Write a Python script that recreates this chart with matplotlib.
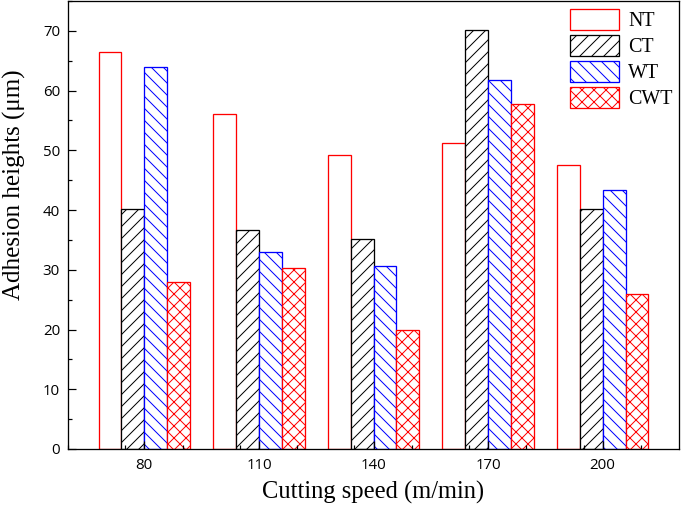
import numpy as np
import matplotlib.pyplot as plt
from matplotlib.ticker import MultipleLocator

speeds = [80, 110, 140, 170, 200]
nt = [66.4, 56.1, 49.3, 51.3, 47.5]
ct = [40.1, 36.6, 35.2, 70.2, 40.1]
wt = [64.0, 33.0, 30.6, 61.8, 43.4]
cwt = [28.0, 30.3, 20.0, 57.8, 26.0]

# dpi 72 so sizes in points equal pixels
fig = plt.figure(figsize=(685 / 72, 509 / 72), dpi=72)
ax = fig.add_axes([68 / 685, 60 / 509, 611 / 685, 448 / 509])

x = np.array(speeds, dtype=float)
w = 6
plt.rcParams['hatch.linewidth'] = 1.0
ax.bar(x - 9, nt, w, facecolor='white', edgecolor='red', linewidth=1.3, label='NT')
ax.bar(x - 3, ct, w, facecolor='white', edgecolor='black', linewidth=1.3, hatch='//', label='CT')
ax.bar(x + 3, wt, w, facecolor='white', edgecolor='blue', linewidth=1.3, hatch='\\\\', label='WT')
ax.bar(x + 9, cwt, w, facecolor='white', edgecolor='red', linewidth=1.3, hatch='xx', label='CWT')

ax.set_xlim(60, 220)
ax.set_ylim(0, 75)
ax.set_xticks(speeds)
ax.xaxis.set_minor_locator(MultipleLocator(15))
ax.yaxis.set_major_locator(MultipleLocator(10))
ax.yaxis.set_minor_locator(MultipleLocator(5))
ax.tick_params(which='both', direction='in', top=False, right=False, width=1.2,
               labelsize=15)
ax.tick_params(which='major', length=8)
ax.tick_params(axis='x', which='major', pad=9)
ax.tick_params(axis='y', which='major', pad=8)
ax.tick_params(which='minor', length=4)
for lab in ax.get_xticklabels() + ax.get_yticklabels():
    lab.set_family('Open Sans')
for s in ax.spines.values():
    s.set_linewidth(1.3)

ax.set_xlabel('Cutting speed (m/min)', family='Liberation Serif', fontsize=24.5, labelpad=8)
ax.set_ylabel('Adhesion heights (μm)', family='Liberation Serif', fontsize=25, labelpad=17)
ax.yaxis.label.set_y(0.589)

ax.legend(loc='upper left', bbox_to_anchor=(0.8216, 0.982), frameon=False,
          borderpad=0, borderaxespad=0, handlelength=2.45, handleheight=1.2,
          labelspacing=0.2, handletextpad=0.45,
          prop={'family': 'Liberation Serif', 'size': 20})

fig.savefig('out.png', dpi=72)
